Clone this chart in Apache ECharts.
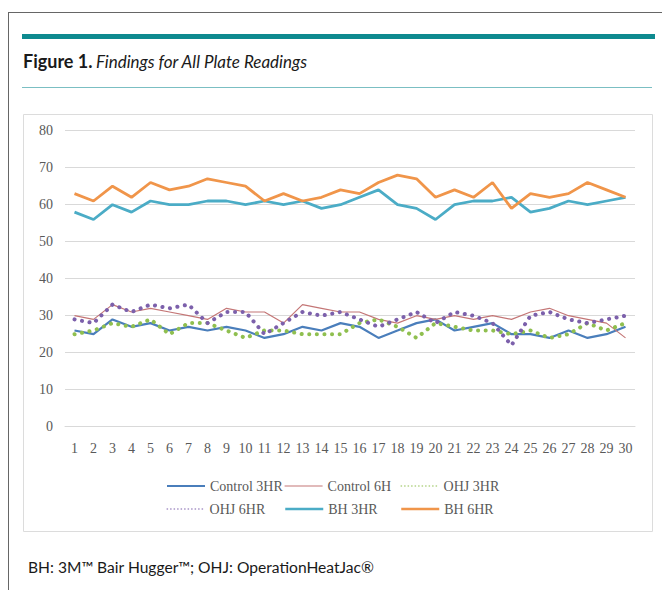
<!DOCTYPE html>
<html>
<head>
<meta charset="utf-8">
<script src="https://cdn.jsdelivr.net/npm/echarts@6/dist/echarts.min.js"></script>
<style>
html,body{margin:0;padding:0;background:#fff;}
#chart{width:662px;height:590px;}
</style>
</head>
<body>
<div id="chart"></div>
<script>
const categories = ['1','2','3','4','5','6','7','8','9','10','11','12','13','14','15','16','17','18','19','20','21','22','23','24','25','26','27','28','29','30'];
const yTicks = { min: 0, max: 80, interval: 10 };
const control3 = [26,25,29,27,28,26,27,26,27,26,24,25,27,26,28,27,24,26,28,29,26,27,28,25,25,24,26,24,25,27];
const control6 = [30,29,33,31,32,31,30,29,32,31,31,28,33,32,31,31,29,28,30,29,30,29,30,29,31,32,30,29,28,24];
const ohj3 = [25,26,28,27,29,25,28,28,26,24,26,26,25,25,25,28,29,27,24,28,27,26,26,25,26,24,25,28,26,28];
const ohj6 = [29,28,33,31,33,32,33,28,31,31,25,28,31,30,31,29,27,29,31,28,31,30,28,22,30,31,29,28,29,30];
const bh3 = [58,56,60,58,61,60,60,61,61,60,61,60,61,59,60,62,64,60,59,56,60,61,61,62,58,59,61,60,61,62];
const bh6 = [63,61,65,62,66,64,65,67,66,65,61,63,61,62,64,63,66,68,67,62,64,62,66,59,63,62,63,66,64,62];
const seriesNames = ['Control 3HR','Control 6H','OHJ 3HR','OHJ 6HR','BH 3HR','BH 6HR'];

const chart = echarts.init(document.getElementById('chart'), null, {renderer:'svg'});
const serif = '"Liberation Serif","Times New Roman",serif';
const sans = 'Lato, "Open Sans", sans-serif';
const labelColor = '#595959';

function legendAt(name, left, top, lineStyle) {
  return {
    data: [{name: name, lineStyle: lineStyle, itemStyle: {opacity: 0, borderWidth: 0}}],
    left: left, top: top,
    itemWidth: 38, itemHeight: 12, itemGap: 5,
    textStyle: {fontFamily: serif, fontSize: 14, color: labelColor},
    padding: 0,
    selectedMode: false
  };
}

const option = {
  animation: false,
  backgroundColor: '#ffffff',
  graphic: [
    {type:'line', shape:{x1:8.5,y1:12,x2:8.5,y2:590}, style:{stroke:'#666', lineWidth:1}},
    {type:'line', shape:{x1:8,y1:12.5,x2:662,y2:12.5}, style:{stroke:'#666', lineWidth:1}},
    {type:'rect', shape:{x:22,y:34,width:633,height:5}, style:{fill:'#0e8a8f'}},
    {type:'line', shape:{x1:22,y1:87.5,x2:652,y2:87.5}, style:{stroke:'#7bbfc3', lineWidth:1}},
    {type:'rect', shape:{x:23.5,y:114.5,width:629,height:417}, style:{fill:'none', stroke:'#dcdcdc', lineWidth:1}},
    {type:'text', left:23, top:52, style:{
      text:'{b|Figure 1.} {i|Findings for All Plate Readings}',
      rich:{
        b:{fontFamily:sans, fontWeight:'bold', fontSize:18, fill:'#1a1a1a'},
        i:{fontFamily:sans, fontStyle:'italic', fontSize:17, fill:'#1a1a1a'}
      }
    }},
    {type:'text', left:28, top:559, style:{
      text:'BH: 3M™ Bair Hugger™; OHJ: OperationHeatJac®',
      fontFamily:sans, fontSize:15.6, fill:'#1a1a1a'
    }}
  ],
  grid: {left:65, right:27, top:130.7, bottom:163.3, containLabel:false},
  xAxis: {
    type:'category', data: categories, boundaryGap: true,
    axisLine:{show:true, lineStyle:{color:'#d9d9d9'}},
    axisTick:{show:false},
    axisLabel:{fontFamily:serif, fontSize:14, color:labelColor, margin:15, interval:0}
  },
  yAxis: {
    type:'value', min:yTicks.min, max:yTicks.max, interval:yTicks.interval,
    axisLine:{show:false}, axisTick:{show:false},
    splitLine:{lineStyle:{color:'#d9d9d9', width:1}},
    axisLabel:{fontFamily:serif, fontSize:14, color:labelColor, margin:12}
  },
  legend: [
    legendAt(seriesNames[0], 166, 479, {width:2}),
    legendAt(seriesNames[1], 284, 479, {width:1.2}),
    legendAt(seriesNames[2], 400, 479, {width:1.2, type:[1.5,2], cap:'butt'}),
    legendAt(seriesNames[3], 166, 502, {width:1.2, type:[1.5,2], cap:'butt'}),
    legendAt(seriesNames[4], 284, 502, {width:2.5}),
    legendAt(seriesNames[5], 400, 502, {width:2.5})
  ],
  series: [
    {name:seriesNames[0], type:'line', data:control3, symbol:'none', color:'#4a7ebb', lineStyle:{width:2.2, color:'#4a7ebb'}},
    {name:seriesNames[1], type:'line', data:control6, symbol:'none', color:'#c77b7b', lineStyle:{width:1.2, color:'#c47676'}},
    {name:seriesNames[2], type:'line', data:ohj3, symbol:'none', color:'#8fbf4f', lineStyle:{width:4, color:'#8fbf4f', type:[0.1,7.5], cap:'round'}},
    {name:seriesNames[3], type:'line', data:ohj6, symbol:'none', color:'#7c60ab', lineStyle:{width:4, color:'#7c60ab', type:[0.1,7.5], cap:'round'}},
    {name:seriesNames[4], type:'line', data:bh3, symbol:'none', color:'#4bacc6', lineStyle:{width:2.8, color:'#4bacc6'}},
    {name:seriesNames[5], type:'line', data:bh6, symbol:'none', color:'#f0954a', lineStyle:{width:2.8, color:'#f0954a'}}
  ]
};
chart.setOption(option);
</script>
</body>
</html>
